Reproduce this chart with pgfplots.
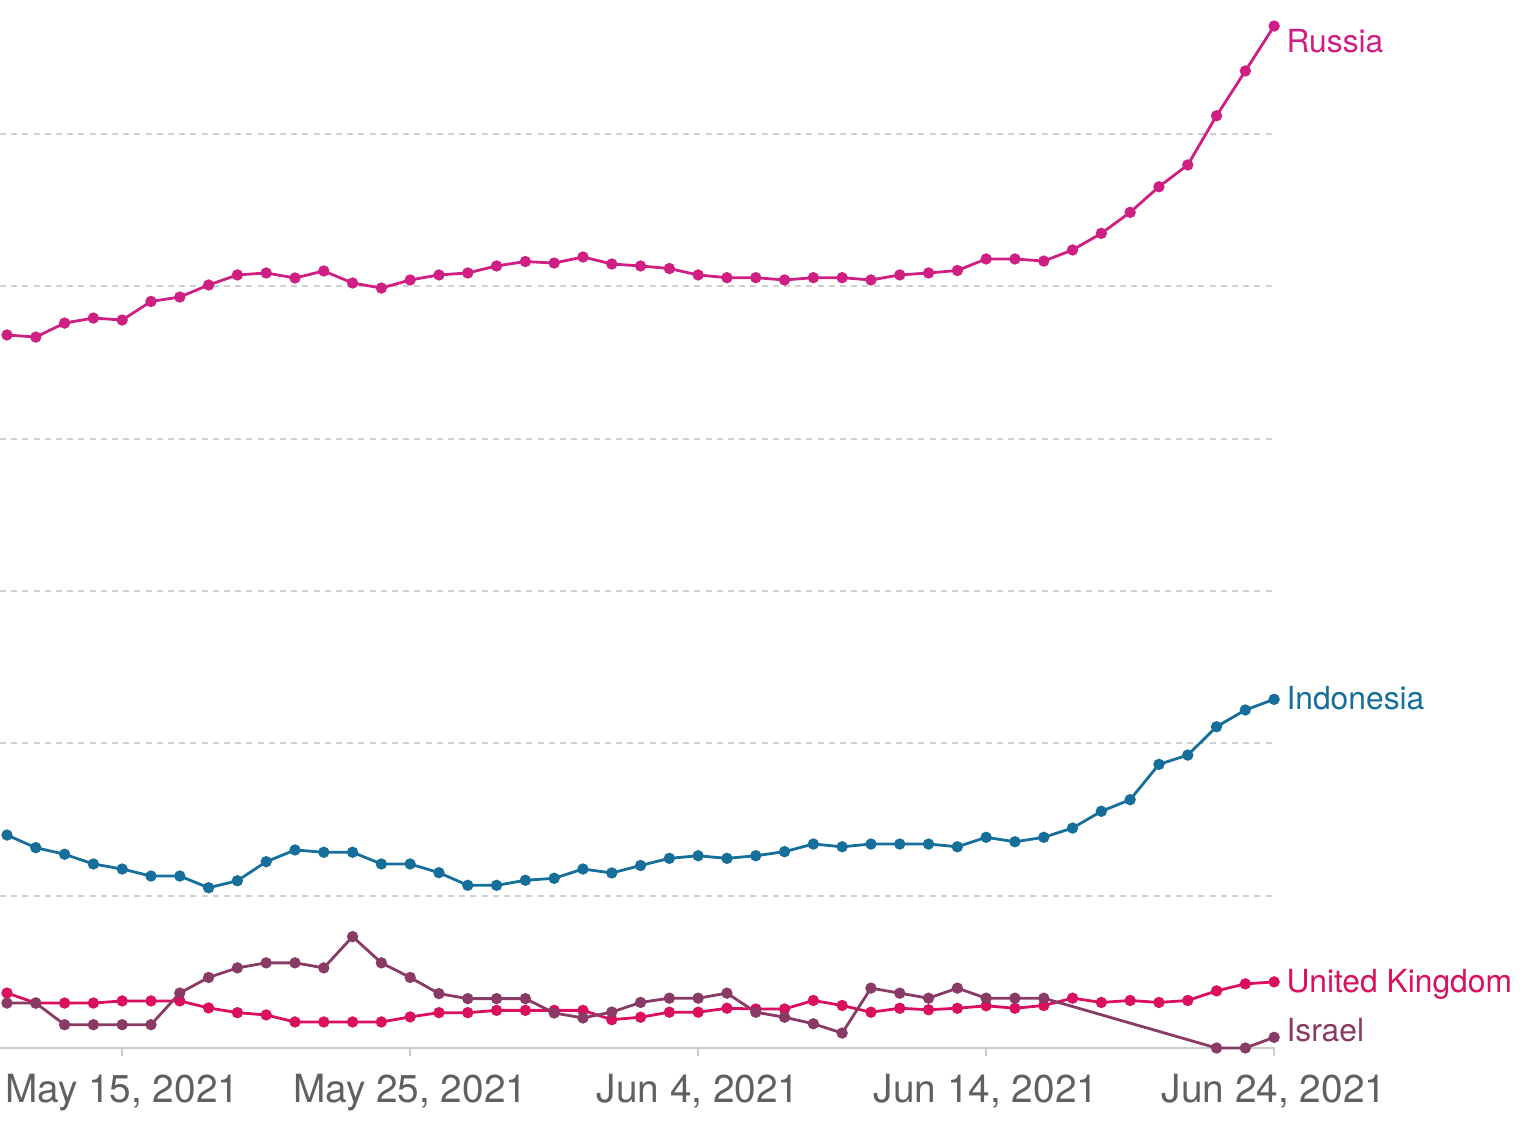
\documentclass[border=0pt]{standalone}
\usepackage{pgfplots}
\pgfplotsset{compat=1.18}
\usepackage{fontspec}
\setmainfont{TeX Gyre Heros}
\definecolor{cRus}{HTML}{D01F82}
\definecolor{cIdn}{HTML}{166E9B}
\definecolor{cGbr}{HTML}{DA105F}
\definecolor{cIsr}{HTML}{893A65}
\definecolor{cGrid}{HTML}{D0D0D0}
\definecolor{cAxis}{HTML}{CCCCCC}
\definecolor{cTick}{HTML}{606060}
\tikzset{serieslabel/.style={anchor=base west, inner sep=0pt, xshift=5.5pt, font=\fontsize{15.9pt}{18pt}\selectfont}}
\begin{document}
\begin{tikzpicture}
\useasboundingbox (0,-47pt) rectangle (761.5pt,524pt);
\begin{axis}[
  at={(0,0)}, anchor=south west,
  scale only axis,
  width=637.5pt, height=524pt,
  xmin=-0.243, xmax=44.03,
  ymin=0, ymax=6.88,
  clip=false,
  axis x line*=bottom,
  axis y line*=left,
  y axis line style={draw=none},
  x axis line style={draw=cAxis, line width=1pt},
  ytick={1,2,3,4,5,6},
  yticklabels={},
  ytick style={draw=none},
  ymajorgrids,
  major grid style={draw=cGrid, line width=1pt, dash pattern=on 3pt off 2.6pt},
  xtick={4,14,24,34,44},
  xticklabels={May 15{,} 2021, May 25{,} 2021, Jun 4{,} 2021, Jun 14{,} 2021, Jun 24{,} 2021},
  tick align=outside,
  major tick length=4pt,
  xtick style={draw=cAxis, line width=0.8pt},
  xticklabel style={anchor=north, inner sep=0pt, yshift=-9pt, text=cTick, font=\fontsize{19.4pt}{22pt}\selectfont},
  every axis plot/.append style={line width=1.4pt, mark=*, mark size=2.1pt},
]
\addplot[color=cRus, mark options={fill=cRus, draw=cRus}] coordinates {
(0,4.681)(1,4.667)(2,4.759)(3,4.792)(4,4.779)(5,4.901)(6,4.930)(7,5.009)(8,5.075)(9,5.088)
(10,5.055)(11,5.101)(12,5.022)(13,4.989)(14,5.042)(15,5.075)(16,5.088)(17,5.134)(18,5.163)(19,5.153)
(20,5.193)(21,5.147)(22,5.134)(23,5.117)(24,5.075)(25,5.057)(26,5.057)(27,5.042)(28,5.057)(29,5.057)
(30,5.042)(31,5.075)(32,5.088)(33,5.104)(34,5.180)(35,5.180)(36,5.166)(37,5.239)(38,5.348)(39,5.486)
(40,5.654)(41,5.797)(42,6.120)(43,6.414)(44,6.709)
} node[pos=1, serieslabel, yshift=-13pt, text=cRus] {Russia};
\addplot[color=cIdn, mark options={fill=cIdn, draw=cIdn}] coordinates {
(0,1.398)(1,1.315)(2,1.272)(3,1.208)(4,1.175)(5,1.129)(6,1.129)(7,1.052)(8,1.098)(9,1.223)
(10,1.300)(11,1.285)(12,1.285)(13,1.208)(14,1.208)(15,1.151)(16,1.068)(17,1.068)(18,1.101)(19,1.114)
(20,1.175)(21,1.149)(22,1.198)(23,1.245)(24,1.262)(25,1.245)(26,1.262)(27,1.289)(28,1.339)(29,1.321)
(30,1.339)(31,1.339)(32,1.339)(33,1.321)(34,1.383)(35,1.354)(36,1.383)(37,1.444)(38,1.554)(39,1.630)
(40,1.862)(41,1.923)(42,2.109)(43,2.219)(44,2.289)
} node[pos=1, serieslabel, yshift=-5pt, text=cIdn] {Indonesia};
\addplot[color=cGbr, mark options={fill=cGbr, draw=cGbr}] coordinates {
(0,0.361)(1,0.295)(2,0.295)(3,0.295)(4,0.309)(5,0.309)(6,0.309)(7,0.263)(8,0.232)(9,0.217)
(10,0.171)(11,0.171)(12,0.171)(13,0.171)(14,0.204)(15,0.232)(16,0.232)(17,0.247)(18,0.247)(19,0.247)
(20,0.247)(21,0.186)(22,0.202)(23,0.235)(24,0.235)(25,0.261)(26,0.256)(27,0.256)(28,0.312)(29,0.279)
(30,0.235)(31,0.261)(32,0.251)(33,0.261)(34,0.277)(35,0.261)(36,0.279)(37,0.327)(38,0.299)(39,0.312)
(40,0.299)(41,0.312)(42,0.375)(43,0.421)(44,0.434)
} node[pos=1, serieslabel, yshift=-5.5pt, text=cGbr] {United Kingdom};
\addplot[color=cIsr, mark options={fill=cIsr, draw=cIsr}] coordinates {
(0,0.295)(1,0.295)(2,0.153)(3,0.153)(4,0.153)(5,0.153)(6,0.361)(7,0.463)(8,0.526)(9,0.559)
(10,0.559)(11,0.526)(12,0.731)(13,0.559)(14,0.463)(15,0.357)(16,0.324)(17,0.324)(18,0.324)(19,0.230)
(20,0.197)(21,0.236)(22,0.299)(23,0.327)(24,0.327)(25,0.360)(26,0.235)(27,0.202)(28,0.159)(29,0.098)
(30,0.393)(31,0.360)(32,0.327)(33,0.393)(34,0.327)(35,0.327)(36,0.327)
(42,0.000)(43,0.000)(44,0.070)
} node[pos=1, serieslabel, yshift=-2.3pt, text=cIsr] {Israel};
\end{axis}
\end{tikzpicture}
\end{document}
